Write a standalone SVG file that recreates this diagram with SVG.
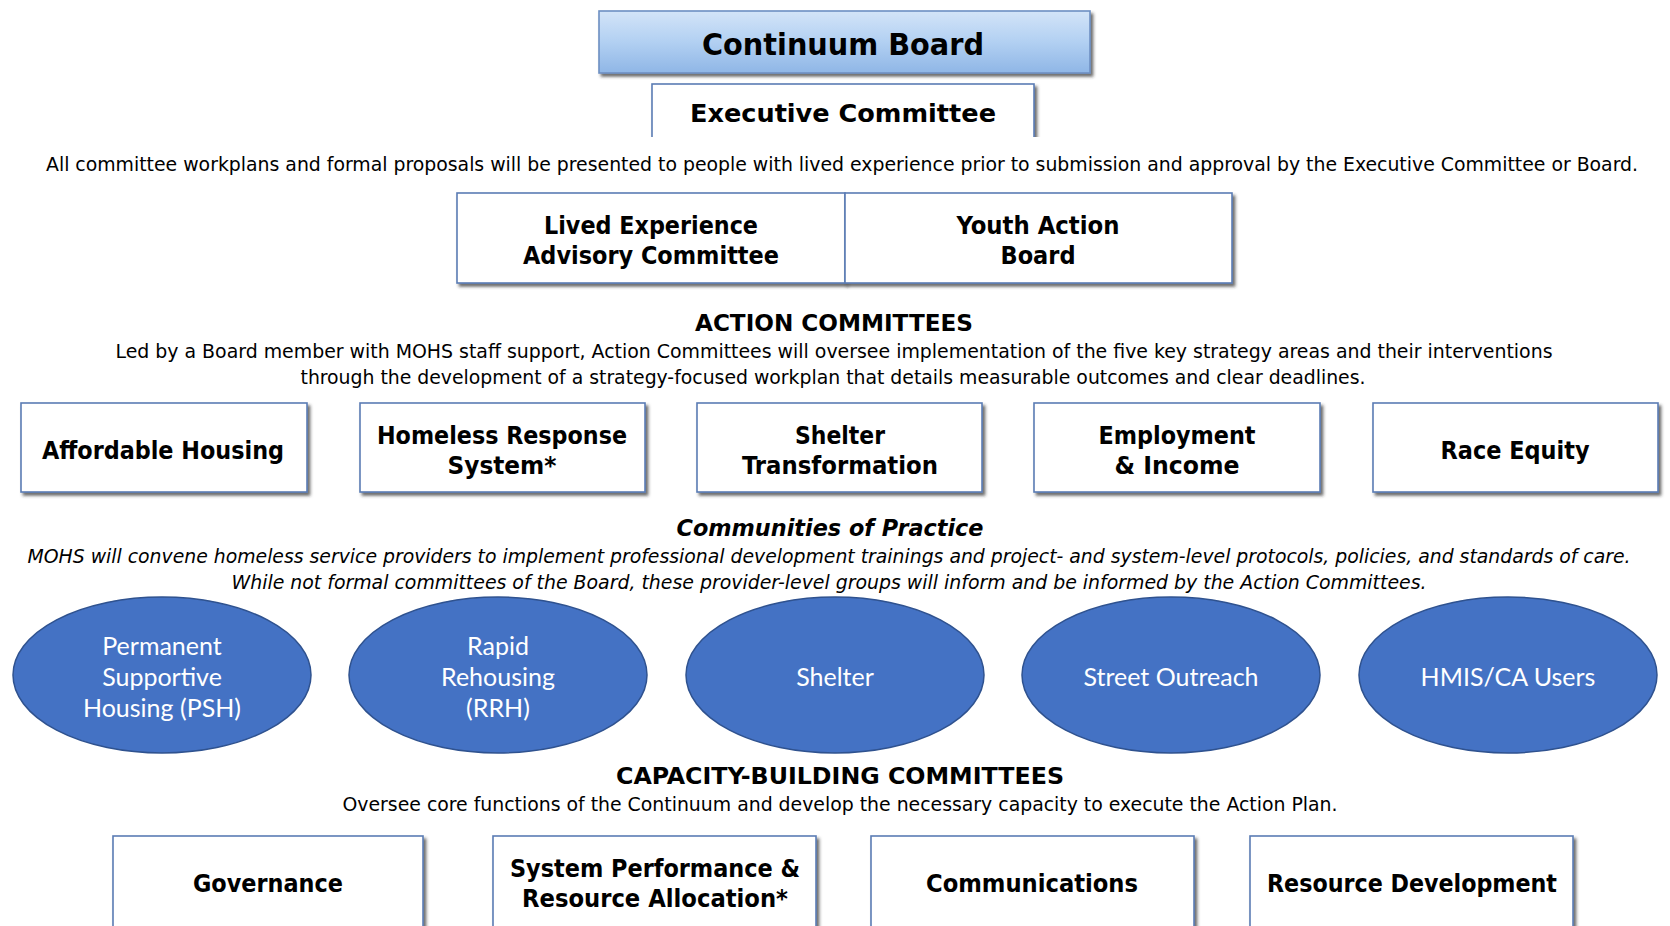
<svg xmlns="http://www.w3.org/2000/svg" width="1670" height="926" viewBox="0 0 1670 926">
  <defs>
    <linearGradient id="boardFill" x1="0" y1="0" x2="0" y2="1">
      <stop offset="0" stop-color="#d3e4f8"/>
      <stop offset="0.5" stop-color="#b2d0f2"/>
      <stop offset="1" stop-color="#8fb6e6"/>
    </linearGradient>
    <filter id="bevel" x="-5%" y="-10%" width="112%" height="130%">
      <feDropShadow dx="2.5" dy="3" stdDeviation="1.6" flood-color="#2e2e2e" flood-opacity="0.7"/>
    </filter>
    <clipPath id="execClip">
      <rect x="600" y="70" width="480" height="67"/>
    </clipPath>
    <style>
      .box { fill: #ffffff; stroke: #5a7cb4; stroke-width: 1.6; filter: url(#bevel); }
      .board { fill: url(#boardFill); stroke: #6d8fc2; stroke-width: 1.6; filter: url(#bevel); }
      .oval { fill: #4472c4; stroke: #2f528f; stroke-width: 1.5; }
      .lbl { font-family: 'DejaVu Sans Condensed', 'DejaVu Sans', sans-serif; font-weight: bold; fill: #000; text-anchor: middle; }
      .big { font-size: 31px; }
      .mid { font-size: 24px; }
      .head { font-family: 'DejaVu Sans Condensed', 'DejaVu Sans', sans-serif; font-weight: bold; font-size: 23px; fill: #000; text-anchor: middle; }
      .body { font-family: 'DejaVu Sans Condensed', 'DejaVu Sans', sans-serif; font-size: 20px; fill: #000; text-anchor: middle; }
      .ital { font-style: italic; }
      .olbl { font-family: Lato, 'Open Sans', sans-serif; font-size: 25px; fill: #ffffff; text-anchor: middle; }
    </style>
  </defs>

  <rect width="1670" height="926" fill="#ffffff"/>

  <!-- top governance -->
  <g id="continuum-board">
    <rect class="board" x="599" y="11" width="491" height="62"/>
    <text class="lbl big" x="843" y="55" textLength="282" lengthAdjust="spacingAndGlyphs">Continuum Board</text>
  </g>

  <g id="executive-committee" clip-path="url(#execClip)">
    <rect class="box" x="652" y="84" width="382" height="70"/>
    <text class="lbl mid" x="843" y="122" font-size="27" textLength="306" lengthAdjust="spacingAndGlyphs">Executive Committee</text>
  </g>

  <text class="body" x="842" y="171" textLength="1592" lengthAdjust="spacingAndGlyphs">All committee workplans and formal proposals will be presented to people with lived experience prior to submission and approval by the Executive Committee or Board.</text>

  <g id="lived-experience">
    <rect class="box" x="457" y="193" width="388" height="90"/>
    <text class="lbl mid" x="651" y="234" textLength="214" lengthAdjust="spacingAndGlyphs">Lived Experience</text>
    <text class="lbl mid" x="651" y="264" textLength="256" lengthAdjust="spacingAndGlyphs">Advisory Committee</text>
  </g>

  <g id="youth-action-board">
    <rect class="box" x="845" y="193" width="387" height="90"/>
    <text class="lbl mid" x="1038" y="234" textLength="163" lengthAdjust="spacingAndGlyphs">Youth Action</text>
    <text class="lbl mid" x="1038" y="264" textLength="75" lengthAdjust="spacingAndGlyphs">Board</text>
  </g>

  <!-- action committees -->
  <text class="head" x="834" y="331" textLength="278" lengthAdjust="spacingAndGlyphs">ACTION COMMITTEES</text>
  <text class="body" x="834" y="358" textLength="1437" lengthAdjust="spacingAndGlyphs">Led by a Board member with MOHS staff support, Action Committees will oversee implementation of the five key strategy areas and their interventions</text>
  <text class="body" x="833" y="384" textLength="1065" lengthAdjust="spacingAndGlyphs">through the development of a strategy-focused workplan that details measurable outcomes and clear deadlines.</text>

  <g id="affordable-housing">
    <rect class="box" x="21" y="403" width="286" height="89"/>
    <text class="lbl mid" x="163" y="459" textLength="242" lengthAdjust="spacingAndGlyphs">Affordable Housing</text>
  </g>
  <g id="homeless-response-system">
    <rect class="box" x="360" y="403" width="285" height="89"/>
    <text class="lbl mid" x="502" y="444" textLength="250" lengthAdjust="spacingAndGlyphs">Homeless Response</text>
    <text class="lbl mid" x="502" y="474" textLength="109" lengthAdjust="spacingAndGlyphs">System*</text>
  </g>
  <g id="shelter-transformation">
    <rect class="box" x="697" y="403" width="285" height="89"/>
    <text class="lbl mid" x="840" y="444" textLength="90" lengthAdjust="spacingAndGlyphs">Shelter</text>
    <text class="lbl mid" x="840" y="474" textLength="196" lengthAdjust="spacingAndGlyphs">Transformation</text>
  </g>
  <g id="employment-income">
    <rect class="box" x="1034" y="403" width="286" height="89"/>
    <text class="lbl mid" x="1177" y="444" textLength="157" lengthAdjust="spacingAndGlyphs">Employment</text>
    <text class="lbl mid" x="1177" y="474" textLength="125" lengthAdjust="spacingAndGlyphs">&amp; Income</text>
  </g>
  <g id="race-equity">
    <rect class="box" x="1373" y="403" width="285" height="89"/>
    <text class="lbl mid" x="1515" y="459" textLength="149" lengthAdjust="spacingAndGlyphs">Race Equity</text>
  </g>

  <!-- communities of practice -->
  <text class="head ital" x="830" y="536" textLength="307" lengthAdjust="spacingAndGlyphs">Communities of Practice</text>
  <text class="body ital" x="829" y="563" textLength="1603" lengthAdjust="spacingAndGlyphs">MOHS will convene homeless service providers to implement professional development trainings and project- and system-level protocols, policies, and standards of care.</text>
  <text class="body ital" x="829" y="589" textLength="1195" lengthAdjust="spacingAndGlyphs">While not formal committees of the Board, these provider-level groups will inform and be informed by the Action Committees.</text>

  <g id="psh">
    <ellipse class="oval" cx="162" cy="675" rx="149" ry="78"/>
    <text class="olbl" x="162" y="655">Permanent</text>
    <text class="olbl" x="162" y="686">Supportive</text>
    <text class="olbl" x="162" y="717">Housing (PSH)</text>
  </g>
  <g id="rrh">
    <ellipse class="oval" cx="498" cy="675" rx="149" ry="78"/>
    <text class="olbl" x="498" y="655">Rapid</text>
    <text class="olbl" x="498" y="686">Rehousing</text>
    <text class="olbl" x="498" y="717">(RRH)</text>
  </g>
  <g id="shelter">
    <ellipse class="oval" cx="835" cy="675" rx="149" ry="78"/>
    <text class="olbl" x="835" y="686">Shelter</text>
  </g>
  <g id="street-outreach">
    <ellipse class="oval" cx="1171" cy="675" rx="149" ry="78"/>
    <text class="olbl" x="1171" y="686">Street Outreach</text>
  </g>
  <g id="hmis-ca-users">
    <ellipse class="oval" cx="1508" cy="675" rx="149" ry="78"/>
    <text class="olbl" x="1508" y="686">HMIS/CA Users</text>
  </g>

  <!-- capacity-building committees -->
  <text class="head" x="840" y="784" textLength="448" lengthAdjust="spacingAndGlyphs">CAPACITY-BUILDING COMMITTEES</text>
  <text class="body" x="840" y="811" textLength="995" lengthAdjust="spacingAndGlyphs">Oversee core functions of the Continuum and develop the necessary capacity to execute the Action Plan.</text>

  <g id="governance">
    <rect class="box" x="113" y="836" width="310" height="100"/>
    <text class="lbl mid" x="268" y="892" textLength="150" lengthAdjust="spacingAndGlyphs">Governance</text>
  </g>
  <g id="system-performance">
    <rect class="box" x="493" y="836" width="323" height="100"/>
    <text class="lbl mid" x="655" y="877" textLength="290" lengthAdjust="spacingAndGlyphs">System Performance &amp;</text>
    <text class="lbl mid" x="655" y="907" textLength="266" lengthAdjust="spacingAndGlyphs">Resource Allocation*</text>
  </g>
  <g id="communications">
    <rect class="box" x="871" y="836" width="323" height="100"/>
    <text class="lbl mid" x="1032" y="892" textLength="212" lengthAdjust="spacingAndGlyphs">Communications</text>
  </g>
  <g id="resource-development">
    <rect class="box" x="1250" y="836" width="323" height="100"/>
    <text class="lbl mid" x="1412" y="892" textLength="290" lengthAdjust="spacingAndGlyphs">Resource Development</text>
  </g>

  <!-- no connectors are drawn between these groups -->
  <g id="connectors"/>
</svg>
